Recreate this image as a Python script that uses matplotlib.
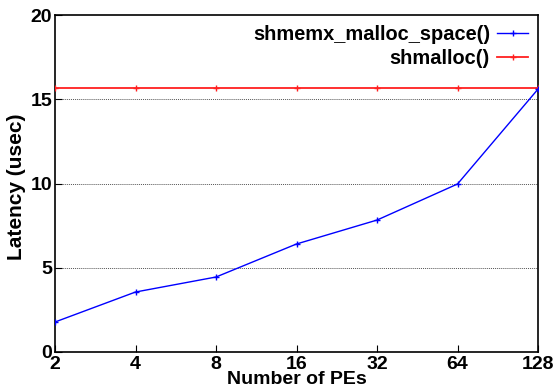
import matplotlib.pyplot as plt
import numpy as np

# Dados
num_pes = [2, 4, 8, 16, 32, 64, 128]
latencia_shmemx = [1.78, 3.56, 4.45, 6.41, 7.83, 9.97, 15.6]
latencia_shmalloc = [15.67, 15.67, 15.67, 15.67, 15.67, 15.67, 15.67]
rotulos_x = ["2", "4", "8", "16", "32", "64", "128"]
rotulos_y = ["0", "5", "10", "15", "20"]

plt.rcParams["font.family"] = ["Liberation Sans", "DejaVu Sans"]

fig = plt.figure(figsize=(5.56, 3.88), dpi=100)
ax = fig.add_axes([55 / 556, 1 - 352 / 388, (538 - 55) / 556, (352 - 15) / 388])

pos = np.arange(len(num_pes))
ax.plot(pos, latencia_shmemx, c="blue", lw=1, marker="+", ms=5, mew=1,
        label="shmemx_malloc_space()", zorder=4)
ax.plot(pos, latencia_shmalloc, c="#ff2020", lw=1.3, marker="+", ms=5, mew=1,
        label="shmalloc()", zorder=3)

ax.set_xlim(0, len(num_pes) - 1)
ax.set_ylim(0, 20)
ax.set_xticks(pos)
ax.set_xticklabels(rotulos_x, fontsize=14, fontweight="bold")
ax.set_yticks([0, 5, 10, 15, 20])
ax.set_yticklabels(rotulos_y, fontsize=14, fontweight="bold")
ax.tick_params(direction="in", length=5, width=0.8, pad=2)
ax.tick_params(axis="x", pad=3)
for y in [5, 10, 15]:
    ax.axhline(y, color="#555555", lw=0.7, ls=(0, (1, 1)), zorder=1)

for s in ax.spines.values():
    s.set_linewidth(1.2)

ax.set_xlabel("Number of PEs", fontsize=14, fontweight="bold")
ax.xaxis.set_label_coords(0.5, -0.083)
ax.xaxis.label.set_va("center")
ax.set_ylabel("Latency (usec)", fontsize=15, fontweight="bold")
ax.yaxis.set_label_coords(-0.079, 0.49)
ax.yaxis.label.set_va("center")

leg = ax.legend(loc="upper right", frameon=False, markerfirst=False,
                prop={"size": 14.4, "weight": "bold"}, handlelength=1.55,
                borderaxespad=0.2, labelspacing=0.25, handletextpad=0.35,
                borderpad=0.3)
for t in leg.get_texts():
    t.set_ha("right")
leg._legend_box.align = "right"

fig.savefig("out.png", dpi=100)
